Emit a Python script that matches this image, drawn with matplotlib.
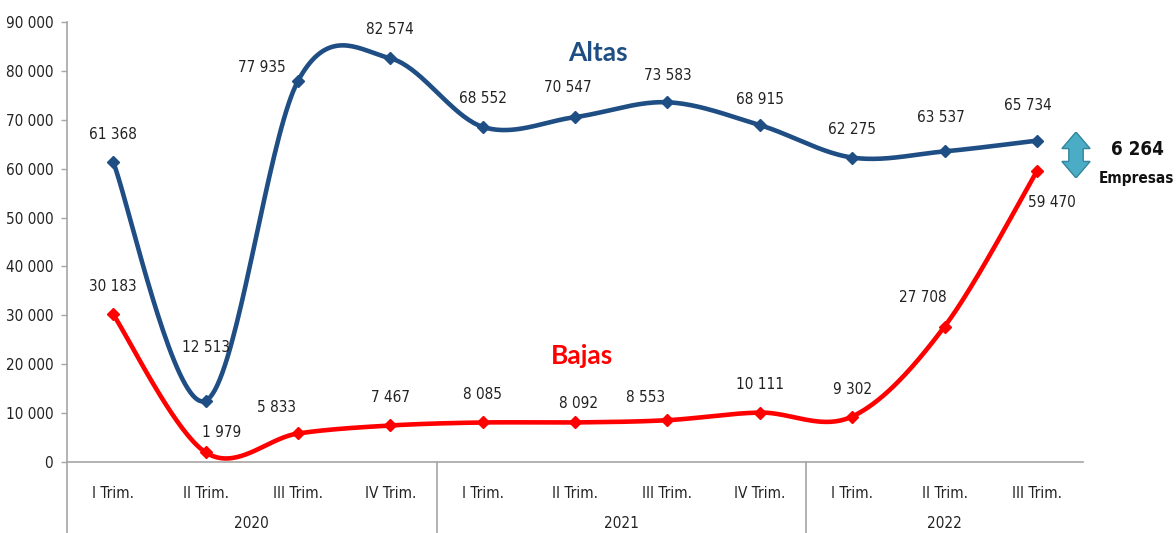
import numpy as np
import matplotlib
matplotlib.use("Agg")
import matplotlib.pyplot as plt
from matplotlib.patches import Polygon
from matplotlib.transforms import blended_transform_factory

# ------------------------------------------------------------
# Data
# ------------------------------------------------------------
quarters = ["I Trim.", "II Trim.", "III Trim.", "IV Trim.",
            "I Trim.", "II Trim.", "III Trim.", "IV Trim.",
            "I Trim.", "II Trim.", "III Trim."]
years = ["2020", "2021", "2022"]
year_sizes = [4, 4, 3]

altas = [61368, 12513, 77935, 82574, 68552, 70547, 73583, 68915, 62275, 63537, 65734]
bajas = [30183, 1979, 5833, 7467, 8085, 8092, 8553, 10111, 9302, 27708, 59470]
diferencia = "6 264"

# label offsets in pixels (dx, dy) relative to each point
altas_off = [(0, 27), (0, 53), (-36, 13), (0, 29), (0, 28), (-7, 30), (0, 27),
             (0, 26), (0, 28), (-4, 34), (-9, 35)]
bajas_off = [(0, 28), (16, 20), (-21, 26), (0, 28), (0, 28), (3, 19), (-22, 23),
             (0, 28), (0, 27), (-22, 29), (15, -31)]

BLUE = "#1F4E84"
RED = "#FF0000"
GREY = "#A6A6A6"
TXT = "#222222"
FS = 11


def fmt(v):
    return f"{v:,}".replace(",", " ")


def smooth(y, n=40):
    """Excel-like smoothed line (Bezier/Catmull-Rom through the points)."""
    y = np.asarray(y, dtype=float)
    x = np.arange(len(y), dtype=float)
    pts = np.column_stack([x, y])
    ext = np.vstack([pts[0], pts, pts[-1]])
    out = []
    t = np.linspace(0, 1, n)[:, None]
    for i in range(len(pts) - 1):
        p0, p1, p2, p3 = ext[i], ext[i + 1], ext[i + 2], ext[i + 3]
        c1 = p1 + (p2 - p0) / 6
        c2 = p2 - (p3 - p1) / 6
        seg = ((1 - t) ** 3) * p1 + 3 * ((1 - t) ** 2) * t * c1 \
            + 3 * (1 - t) * t ** 2 * c2 + t ** 3 * p2
        out.append(seg if i == 0 else seg[1:])
    out = np.vstack(out)
    return out[:, 0], out[:, 1]


plt.rcParams["font.family"] = ["DejaVu Sans"]
plt.rcParams["font.stretch"] = "condensed"

fig = plt.figure(figsize=(11.76, 5.33), dpi=100)
ax = fig.add_axes([0.057, 0.1332, 0.864, 0.8255])

x = np.arange(len(quarters))
for vals, col, offs in [(altas, BLUE, altas_off), (bajas, RED, bajas_off)]:
    sx, sy = smooth(vals)
    ax.plot(sx, sy, color=col, lw=3.3, solid_capstyle="round", zorder=3)
    ax.plot(x, vals, linestyle="none", marker="D", ms=6, color=col, zorder=4)
    for xi, v, (dx, dy) in zip(x, vals, offs):
        ax.annotate(fmt(v), (xi, v), xytext=(dx, dy), textcoords="offset pixels",
                    ha="center", va="center", fontsize=FS, color=TXT)

ax.set_xlim(-0.5, len(quarters) - 0.5)
ax.set_ylim(0, 90000)
ax.set_yticks(np.arange(0, 90001, 10000))
ax.set_yticklabels([fmt(v) for v in range(0, 90001, 10000)], fontsize=FS,
                   color=TXT)
ax.set_xticks(x)
ax.set_xticklabels(quarters, fontsize=FS, color=TXT)
ax.tick_params(axis="x", length=0, pad=17)
ax.tick_params(axis="y", length=4, color=GREY, width=1, pad=6)

for side in ["top", "right"]:
    ax.spines[side].set_visible(False)
for side in ["left", "bottom"]:
    ax.spines[side].set_color(GREY)
    ax.spines[side].set_linewidth(1.2)

# group separators and year labels below the axis
trans = blended_transform_factory(ax.transData, ax.transAxes)
edges = [-0.5]
for s in year_sizes:
    edges.append(edges[-1] + s)
for e in edges[:-1]:
    ax.plot([e, e], [0, -0.25], transform=trans, color=GREY, lw=1.2,
            clip_on=False)
for yr, a, b in zip(years, edges[:-1], edges[1:]):
    ax.text((a + b) / 2, -0.139, yr, transform=trans, ha="center", va="center",
            fontsize=FS, color=TXT)

# series titles
ax.text(5.25, 83600, "Altas", ha="center", va="center", fontsize=19,
        fontweight="bold", color=BLUE, family="Lato", stretch="normal")
ax.text(5.08, 21700, "Bajas", ha="center", va="center", fontsize=19,
        fontweight="bold", color=RED, family="Lato", stretch="normal")

# double arrow with the difference
aax = fig.add_axes([1061 / 1176, 1 - 178 / 533, 30 / 1176, 46 / 533])
aax.set_xlim(0, 1)
aax.set_ylim(0, 1)
aax.axis("off")
shape = [(0.5, 1.0), (0.97, 0.64), (0.74, 0.64), (0.74, 0.36), (0.97, 0.36),
         (0.5, 0.0), (0.03, 0.36), (0.26, 0.36), (0.26, 0.64), (0.03, 0.64)]
aax.add_patch(Polygon(shape, closed=True, facecolor="#4BACC6",
                      edgecolor="#31859C", lw=1))

fig.text(1137 / 1176, 1 - 150 / 533, diferencia, ha="center", va="center",
         fontsize=13.5, fontweight="bold", color="#111111")
fig.text(1136 / 1176, 1 - 178 / 533, "Empresas", ha="center", va="center",
         fontsize=11, fontweight="bold", color="#111111")

fig.savefig("out.png", dpi=100)
